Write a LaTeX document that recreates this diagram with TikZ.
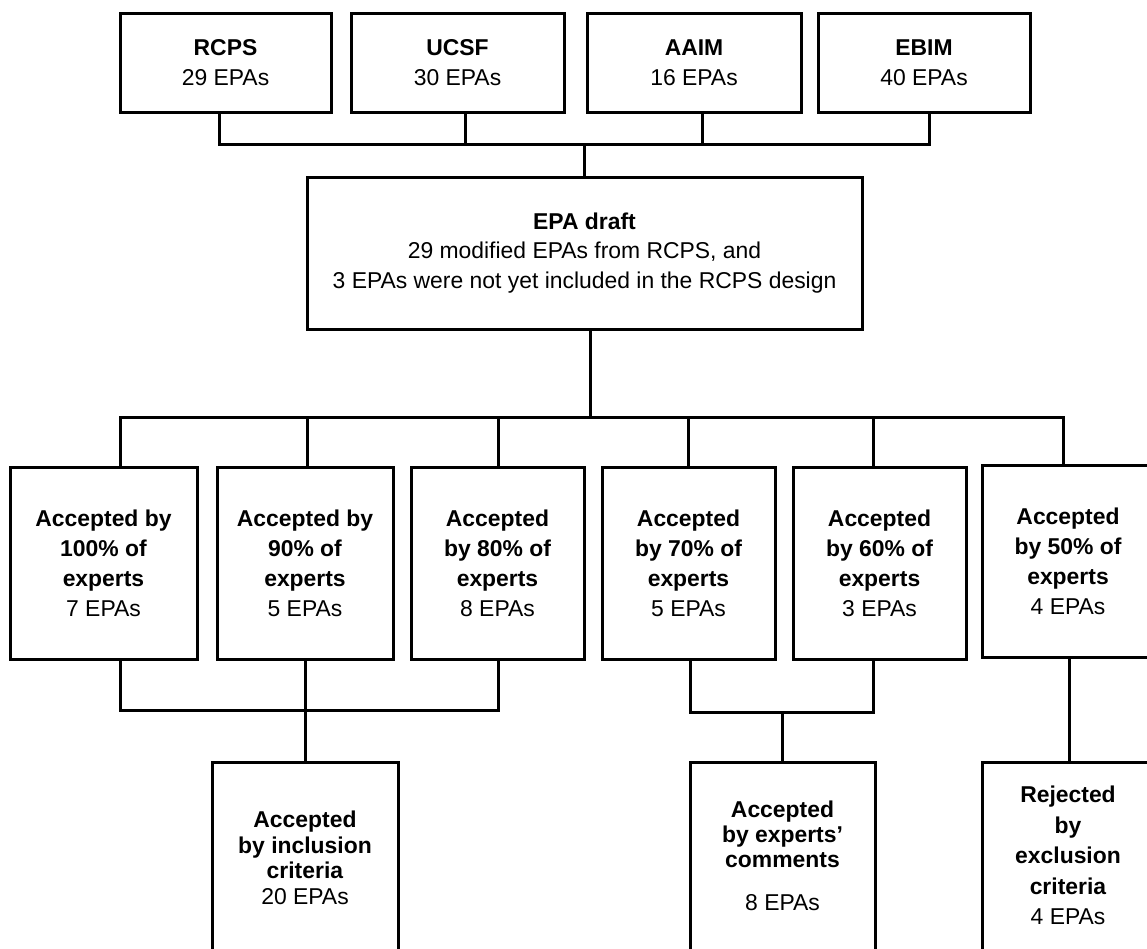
\documentclass[tikz,border=0pt]{standalone}
\usepackage{fontspec}
\setmainfont{Liberation Sans}
\begin{document}
\begin{tikzpicture}[x=1pt,y=-1pt,
  box/.style={draw, line width=3pt, inner sep=0pt, align=center,
    font=\fontsize{22.9}{30}\selectfont},
  txt/.style={inner sep=0pt, align=center},
  conn/.style={line width=3pt}]
\useasboundingbox (0,0) rectangle (1147,948);
% top row
\node[box, minimum width=211pt, minimum height=99pt] (rcps) at (225.5,62.5) {\textbf{RCPS}\\29 EPAs};
\node[box, minimum width=213pt, minimum height=99pt] (ucsf) at (457.5,62.5) {\textbf{UCSF}\\30 EPAs};
\node[box, minimum width=214pt, minimum height=99pt] (aaim) at (694,62.5) {\textbf{AAIM}\\16 EPAs};
\node[box, minimum width=212pt, minimum height=99pt] (ebim) at (924,62.5) {\textbf{EBIM}\\40 EPAs};
% draft
\node[box, minimum width=555pt, minimum height=152pt, font=\fontsize{22.9}{29.5}\selectfont] (draft) at (584.5,253)
  {\textbf{EPA draft}\\29 modified EPAs from RCPS, and\\3 EPAs were not yet included in the RCPS design};
% middle row
\node[box, minimum width=187pt, minimum height=192pt] (m1) at (103.5,563) {\textbf{Accepted by}\\\textbf{100\% of}\\\textbf{experts}\\7 EPAs};
\node[box, minimum width=176pt, minimum height=192pt] (m2) at (305,563) {\textbf{Accepted by}\\\textbf{90\% of}\\\textbf{experts}\\5 EPAs};
\node[box, minimum width=173pt, minimum height=192pt] (m3) at (497.5,563) {\textbf{Accepted}\\\textbf{by 80\% of}\\\textbf{experts}\\8 EPAs};
\node[box, minimum width=173pt, minimum height=192pt] (m4) at (688.5,563) {\textbf{Accepted}\\\textbf{by 70\% of}\\\textbf{experts}\\5 EPAs};
\node[box, minimum width=173pt, minimum height=192pt] (m5) at (879.5,563) {\textbf{Accepted}\\\textbf{by 60\% of}\\\textbf{experts}\\3 EPAs};
\node[box, minimum width=172pt, minimum height=192pt] (m6) at (1068,561) {\textbf{Accepted}\\\textbf{by 50\% of}\\\textbf{experts}\\4 EPAs};
% bottom row
\node[box, minimum width=186pt, minimum height=198pt] (inc) at (305,861) {};
\node[box, minimum width=185pt, minimum height=198pt] (com) at (782.5,861) {};
\node[box, minimum width=172pt, minimum height=198pt] (rej) at (1068,861) {};
\node[txt, font=\fontsize{22.9}{25.5}\selectfont] (inctext) at (305,857.6)
  {\textbf{Accepted}\\\textbf{by inclusion}\\\textbf{criteria}\\20 EPAs};
\node[txt, font=\fontsize{22.9}{25}\selectfont] (comtext) at (782.5,856)
  {\textbf{Accepted}\\\textbf{by experts'}\\\textbf{comments}\\[18pt]8 EPAs};
\node[txt, font=\fontsize{22.9}{30.4}\selectfont] (rejtext) at (1068,855.5)
  {\textbf{Rejected}\\\textbf{by}\\\textbf{exclusion}\\\textbf{criteria}\\4 EPAs};
% junctions
\coordinate (j1) at (584,144);
\coordinate (j2) at (590,417);
\coordinate (j3) at (305,710);
\coordinate (j4) at (782.5,712);
% top connectors
\draw[conn] ([xshift=-6.5pt]rcps.south) |- ([xshift=5pt]ebim.south |- j1) -- ([xshift=5pt]ebim.south);
\draw[conn] ([xshift=7.5pt]ucsf.south) -- ([xshift=7.5pt]ucsf.south |- j1);
\draw[conn] ([xshift=8pt]aaim.south) -- ([xshift=8pt]aaim.south |- j1);
\draw[conn] (j1) -- (draft.north -| j1);
% draft to middle row
\draw[conn] ([xshift=5.5pt]draft.south) -- (j2);
\draw[conn] ([xshift=16.5pt]m1.north) |- ([xshift=-5pt]m6.north |- j2) -- ([xshift=-5pt]m6.north);
\draw[conn] ([xshift=2pt]m2.north) -- ([xshift=2pt]m2.north |- j2);
\draw[conn] ([xshift=0.5pt]m3.north) -- ([xshift=0.5pt]m3.north |- j2);
\draw[conn] ([xshift=-0.5pt]m4.north) -- ([xshift=-0.5pt]m4.north |- j2);
\draw[conn] ([xshift=-6.5pt]m5.north) -- ([xshift=-6.5pt]m5.north |- j2);
% middle to bottom
\draw[conn] ([xshift=16.5pt]m1.south) |- ([xshift=0.5pt]m3.south |- j3) -- ([xshift=0.5pt]m3.south);
\draw[conn] (m2.south) -- (inc.north);
\draw[conn] ([xshift=1.5pt]m4.south) |- ([xshift=-6.5pt]m5.south |- j4) -- ([xshift=-6.5pt]m5.south);
\draw[conn] (j4) -- (com.north);
\draw[conn] ([xshift=1pt]m6.south) -- ([xshift=1pt]rej.north);
\end{tikzpicture}
\end{document}
